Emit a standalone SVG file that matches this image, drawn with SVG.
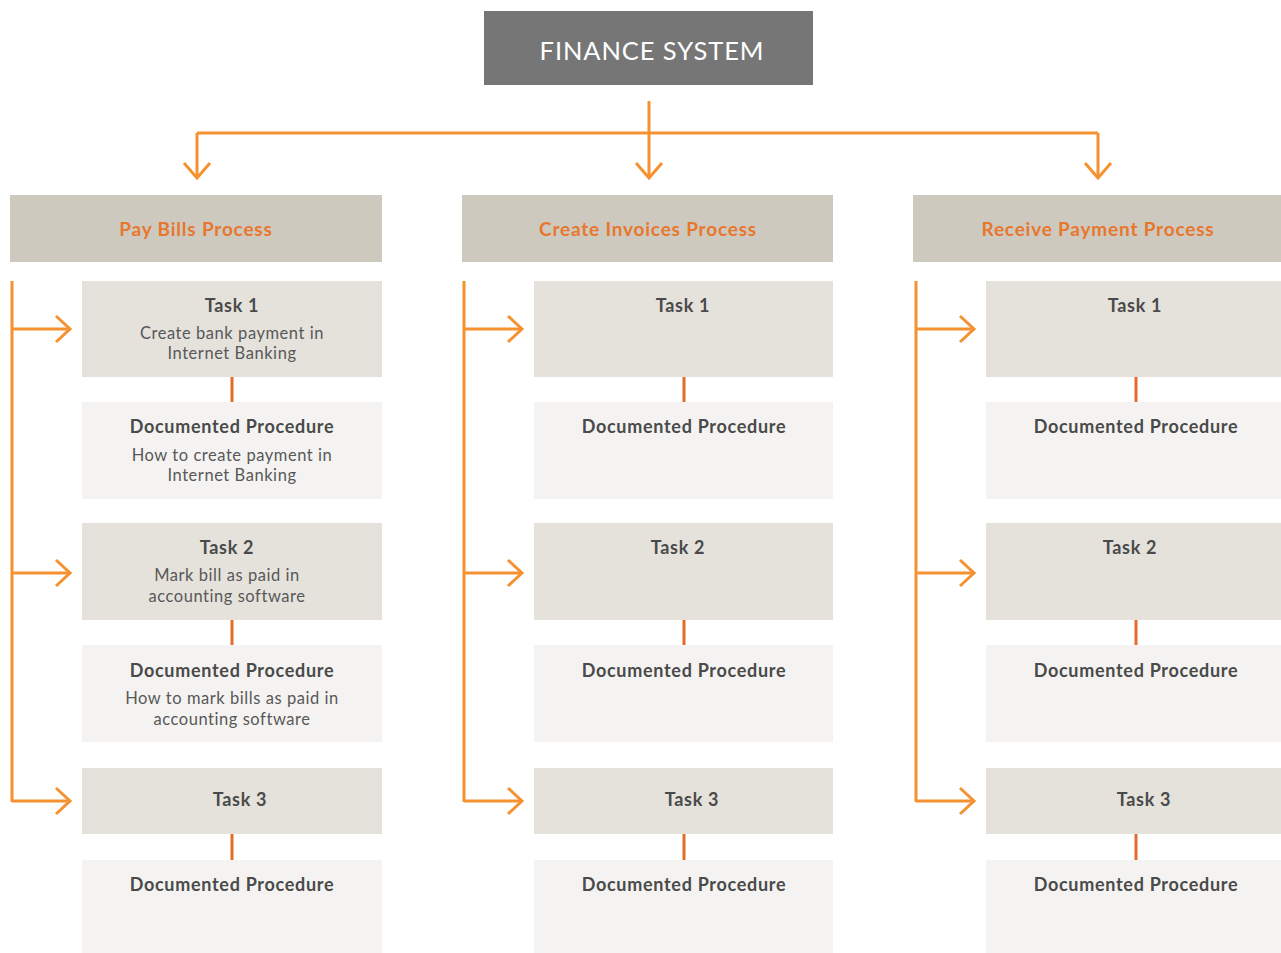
<svg xmlns="http://www.w3.org/2000/svg" width="1281" height="953" viewBox="0 0 1281 953">
<style>
.sys{fill:#767676}
.proc{fill:#cdc9bf}
.task{fill:#e5e2dc}
.doc{fill:#f4f3f1}
.t{font-family:Lato,"Noto Sans","Liberation Sans",sans-serif;text-anchor:middle}
.title{fill:#ffffff;font-size:25.5px;letter-spacing:0.9px}
.ph{fill:#e8772e;font-size:19px;font-weight:bold;letter-spacing:0.8px}
.h{fill:#4a4a4a;font-size:18px;font-weight:bold;letter-spacing:0.7px}
.s{fill:#585858;font-size:16.5px;letter-spacing:0.55px}
.c{fill:none;stroke:#f5922f;stroke-width:3}
.k{fill:none;stroke:#e46c2a;stroke-width:3}
</style>
<rect width="1281" height="953" fill="#ffffff"/>
<g id="connectors">
<path class="c" d="M649 101V178M197 133H1098M197 133V178M1098 133V178"/>
<path class="c" d="M184 163L197 178L210 163M636 163L649 178L662 163M1085 163L1098 178L1111 163"/>
<path class="c" d="M12 281V802M12 329H70M12 573H70M12 801H70"/>
<path class="c" d="M56 316L70 329L56 342M56 560L70 573L56 586M56 788L70 801L56 814"/>
<path class="c" d="M464 281V802M464 329H522M464 573H522M464 801H522"/>
<path class="c" d="M508 316L522 329L508 342M508 560L522 573L508 586M508 788L522 801L508 814"/>
<path class="c" d="M916 281V802M916 329H974M916 573H974M916 801H974"/>
<path class="c" d="M960 316L974 329L960 342M960 560L974 573L960 586M960 788L974 801L960 814"/>
<path class="k" d="M232 377V402M232 620V645M232 834V860M684 377V402M684 620V645M684 834V860M1136 377V402M1136 620V645M1136 834V860"/>
</g>
<g id="finance-system">
<rect class="sys" x="484" y="11" width="329" height="74"/>
<text class="t title" x="652" y="60">FINANCE SYSTEM</text>
</g>
<g id="pay-bills">
<rect class="proc" x="10" y="195" width="372" height="67"/>
<text class="t ph" x="196" y="236">Pay Bills Process</text>
</g>
<g id="pb-task1">
<rect class="task" x="82" y="281" width="300" height="96"/>
<text class="t h" x="232" y="312">Task 1</text>
<text class="t s" x="232" y="339">Create bank payment in</text>
<text class="t s" x="232" y="359">Internet Banking</text>
</g>
<g id="pb-doc1">
<rect class="doc" x="82" y="402" width="300" height="97"/>
<text class="t h" x="232" y="433">Documented Procedure</text>
<text class="t s" x="232" y="461">How to create payment in</text>
<text class="t s" x="232" y="481">Internet Banking</text>
</g>
<g id="pb-task2">
<rect class="task" x="82" y="523" width="300" height="97"/>
<text class="t h" x="227" y="554">Task 2</text>
<text class="t s" x="227" y="581">Mark bill as paid in</text>
<text class="t s" x="227" y="602">accounting software</text>
</g>
<g id="pb-doc2">
<rect class="doc" x="82" y="645" width="300" height="97"/>
<text class="t h" x="232" y="677">Documented Procedure</text>
<text class="t s" x="232" y="704">How to mark bills as paid in</text>
<text class="t s" x="232" y="725">accounting software</text>
</g>
<g id="pb-task3">
<rect class="task" x="82" y="768" width="300" height="66"/>
<text class="t h" x="240" y="806">Task 3</text>
</g>
<g id="pb-doc3">
<rect class="doc" x="82" y="860" width="300" height="93"/>
<text class="t h" x="232" y="891">Documented Procedure</text>
</g>
<g id="create-invoices">
<rect class="proc" x="462" y="195" width="371" height="67"/>
<text class="t ph" x="648" y="236">Create Invoices Process</text>
</g>
<g id="ci-task1">
<rect class="task" x="534" y="281" width="299" height="96"/>
<text class="t h" x="683" y="312">Task 1</text>
</g>
<g id="ci-doc1">
<rect class="doc" x="534" y="402" width="299" height="97"/>
<text class="t h" x="684" y="433">Documented Procedure</text>
</g>
<g id="ci-task2">
<rect class="task" x="534" y="523" width="299" height="97"/>
<text class="t h" x="678" y="554">Task 2</text>
</g>
<g id="ci-doc2">
<rect class="doc" x="534" y="645" width="299" height="97"/>
<text class="t h" x="684" y="677">Documented Procedure</text>
</g>
<g id="ci-task3">
<rect class="task" x="534" y="768" width="299" height="66"/>
<text class="t h" x="692" y="806">Task 3</text>
</g>
<g id="ci-doc3">
<rect class="doc" x="534" y="860" width="299" height="93"/>
<text class="t h" x="684" y="891">Documented Procedure</text>
</g>
<g id="receive-payment">
<rect class="proc" x="913" y="195" width="368" height="67"/>
<text class="t ph" x="1098" y="236">Receive Payment Process</text>
</g>
<g id="rp-task1">
<rect class="task" x="986" y="281" width="295" height="96"/>
<text class="t h" x="1135" y="312">Task 1</text>
</g>
<g id="rp-doc1">
<rect class="doc" x="986" y="402" width="295" height="97"/>
<text class="t h" x="1136" y="433">Documented Procedure</text>
</g>
<g id="rp-task2">
<rect class="task" x="986" y="523" width="295" height="97"/>
<text class="t h" x="1130" y="554">Task 2</text>
</g>
<g id="rp-doc2">
<rect class="doc" x="986" y="645" width="295" height="97"/>
<text class="t h" x="1136" y="677">Documented Procedure</text>
</g>
<g id="rp-task3">
<rect class="task" x="986" y="768" width="295" height="66"/>
<text class="t h" x="1144" y="806">Task 3</text>
</g>
<g id="rp-doc3">
<rect class="doc" x="986" y="860" width="295" height="93"/>
<text class="t h" x="1136" y="891">Documented Procedure</text>
</g>
</svg>
